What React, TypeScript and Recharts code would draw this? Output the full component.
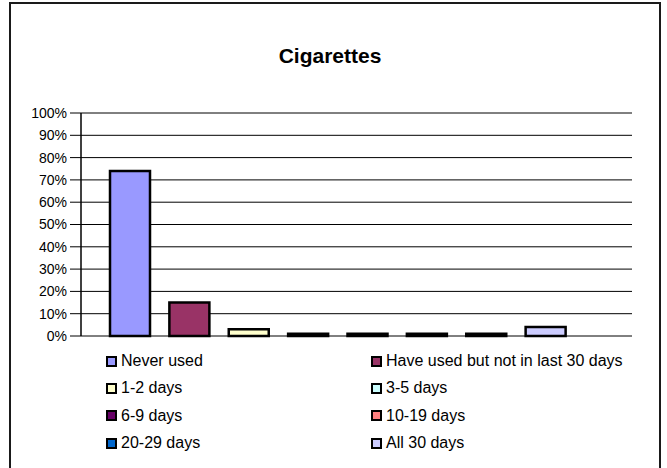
import { Bar, BarChart, CartesianGrid, Cell, XAxis, YAxis } from "recharts";

const categories = [
  "Never used",
  "Have used but not in last 30 days",
  "1-2 days",
  "3-5 days",
  "6-9 days",
  "10-19 days",
  "20-29 days",
  "All 30 days",
];
const percents = [74, 15, 3, 1, 1, 1, 1, 4];
const colors = ["#9999FF", "#993366", "#FFFFCC", "#CCFFFF", "#660066", "#FF8080", "#0066CC", "#CCCCFF"];
const yTicks = [0, 10, 20, 30, 40, 50, 60, 70, 80, 90, 100];

const data = categories.map((name, i) => ({ name, value: percents[i] }));

const FONT = '"Liberation Sans", Arial, sans-serif';

function LegendBlock() {
  return (
    <>
      {categories.map((name, i) => {
        const col = i % 2;
        const row = Math.floor(i / 2);
        return (
          <div
            key={name}
            style={{
              position: "absolute",
              left: col === 0 ? 106 : 371,
              top: 351 + row * 27.4,
              height: 20,
              display: "flex",
              alignItems: "center",
              fontFamily: FONT,
              fontSize: 16,
              color: "#000",
              whiteSpace: "nowrap",
            }}
          >
            <span
              style={{
                display: "inline-block",
                width: 11,
                height: 11,
                boxSizing: "border-box",
                border: "2.5px solid #000",
                background: colors[i],
                marginRight: 4,
              }}
            />
            {name}
          </div>
        );
      })}
    </>
  );
}

export default function App() {
  return (
    <div style={{ position: "absolute", left: 0, top: 0, width: 667, height: 468, overflow: "hidden", background: "#fff" }}>
      <div
        style={{
          position: "absolute",
          left: 0,
          top: 45,
          width: 660,
          textAlign: "center",
          fontFamily: FONT,
          fontWeight: "bold",
          fontSize: 21,
          lineHeight: "21px",
        }}
      >
        Cigarettes
      </div>
      <div style={{ position: "absolute", left: 0, top: 0 }}>
        <BarChart width={667} height={468} data={data} margin={{ top: 113, right: 35, bottom: 132, left: 21 }}>
          <CartesianGrid vertical={false} stroke="#000" strokeWidth={1} />
          <XAxis dataKey="name" hide padding={{ left: 19, right: 57 }} />
          <YAxis
            domain={[0, 100]}
            ticks={yTicks}
            interval={0}
            width={60}
            tickFormatter={(v) => `${v}%`}
            tick={{ fontSize: 14, fill: "#000", fontFamily: FONT }}
            tickSize={11}
            tickMargin={3}
            axisLine={{ stroke: "#000", strokeWidth: 1.5 }}
            tickLine={{ stroke: "#000" }}
          />
          <YAxis
            yAxisId="frame"
            orientation="right"
            width={0}
            tick={false}
            tickLine={false}
            axisLine={{ stroke: "#808080" }}
          />
          <Bar dataKey="value" barSize={40} stroke="#000" strokeWidth={2.5} isAnimationActive={false}>
            {data.map((_, index) => (
              <Cell key={`bar-${index}`} fill={colors[index % colors.length]} />
            ))}
          </Bar>
        </BarChart>
      </div>
      <LegendBlock />
      <div
        style={{
          position: "absolute",
          left: 9,
          top: 2,
          width: 652,
          height: 480,
          boxSizing: "border-box",
          border: "2px solid #1a1a1a",
          pointerEvents: "none",
        }}
      />
    </div>
  );
}
